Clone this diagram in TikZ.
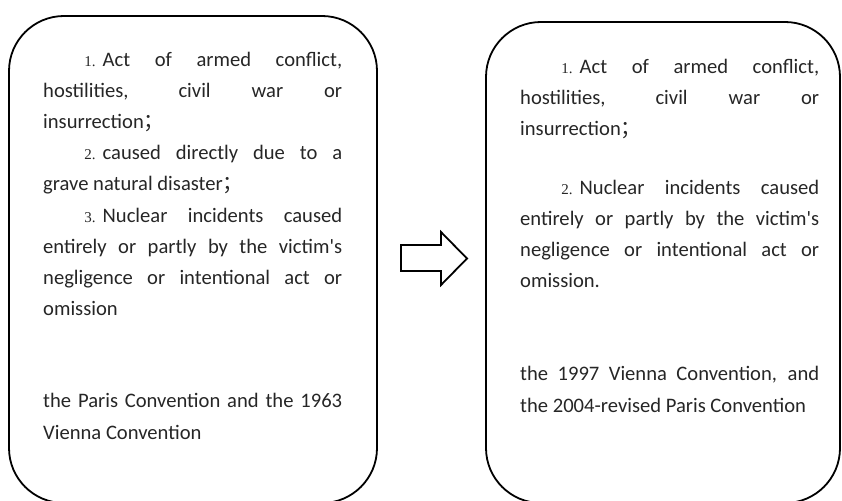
\documentclass[tikz,border=0pt]{standalone}
\usepackage{fontspec}
\setmainfont{Carlito}
\newfontfamily\numfont{Liberation Serif}
\newfontfamily\cjkfont{Noto Sans CJK SC}
\usetikzlibrary{positioning}

\newcommand{\itemno}[1]{\hspace*{2em}{\numfont\fontsize{15}{15}\selectfont #1.}\hspace{7pt}}
\newcommand{\fullsemi}{{\cjkfont ；}}

\begin{document}
\begin{tikzpicture}[
    x=1pt, y=-1pt,
    panel/.style={rectangle, draw, line width=1.8pt, rounded corners=55pt, inner sep=0pt},
    txt/.style={anchor=north west, inner sep=0pt, text width=299pt, align=justify,
        text=black!85, font=\fontsize{20.6}{31.2}\selectfont},
    outline/.style={draw, line width=1.8pt, line join=miter}
]
\useasboundingbox (0,0) rectangle (842,500);

% Left panel
\node[panel, minimum width=368pt, minimum height=487pt] (before) at (193, 259.5) {};
\node[txt] (beforetext) at (43, 51.5) {\tolerance=10000 \hyphenpenalty=10000
\itemno{1}Act of armed conflict,\linebreak hostilities, civil war or\linebreak insurrection\fullsemi\par
\itemno{2}caused directly due to a\linebreak grave natural disaster\fullsemi\par
\itemno{3}Nuclear incidents caused\linebreak entirely or partly by the victim\textquotesingle s\linebreak negligence or intentional act or\linebreak omission\par
\vspace{61pt}
the Paris Convention and the 1963\linebreak Vienna Convention\par};

% Right panel
\node[panel, minimum width=354pt, minimum height=481pt] (after) at (663, 262.5) {};
\node[txt] (aftertext) at (520, 59) {\tolerance=10000 \hyphenpenalty=10000
\itemno{1}Act of armed conflict,\linebreak hostilities, civil war or\linebreak insurrection\fullsemi\par
\vspace{27pt}
\itemno{2}Nuclear incidents caused\linebreak entirely or partly by the victim\textquotesingle s\linebreak negligence or intentional act or\linebreak omission.\par
\vspace{62pt}
the 1997 Vienna Convention, and\linebreak the 2004-revised Paris Convention\par};

% Hollow block arrow
\draw[outline] (401,245) -- (441,245) -- (441,232) -- (467,258.5)
    -- (441,285) -- (441,271) -- (401,271) -- cycle;

\end{tikzpicture}
\end{document}
